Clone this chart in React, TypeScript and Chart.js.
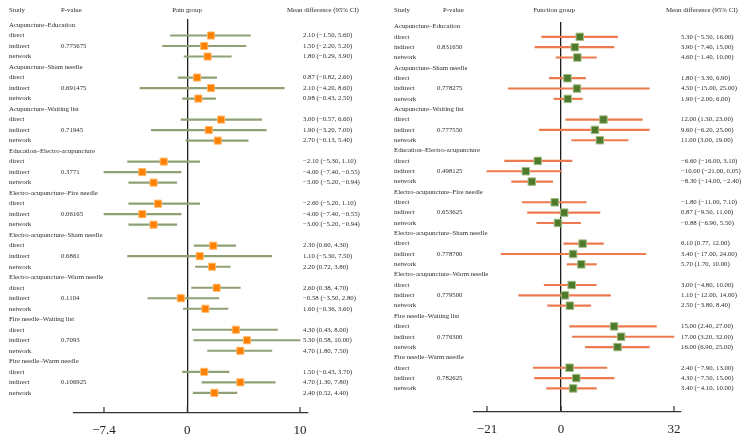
import React, { useEffect, useRef } from 'react';
import { Chart, registerables } from 'chart.js';

Chart.register(...registerables);

// ---------- data ----------
const comparisons = [
  'Acupuncture–Education',
  'Acupuncture–Sham needle',
  'Acupuncture–Waiting list',
  'Education–Electro-acupuncture',
  'Electro-acupuncture–Fire needle',
  'Electro-acupuncture–Sham needle',
  'Electro-acupuncture–Warm needle',
  'Fire needle–Waiting list',
  'Fire needle–Warm needle',
];
const evidenceTypes = ['direct', 'indirect', 'network'];

// [estimate, lower, upper]
const painDirect = [[2.10, -1.50, 5.60], [0.87, -0.82, 2.60], [3.00, -0.57, 6.60], [-2.10, -5.30, 1.10], [-2.60, -5.20, 1.10], [2.30, 0.60, 4.30], [2.60, 0.38, 4.70], [4.30, 0.43, 8.00], [1.50, -0.43, 3.70]];
const painIndirect = [[1.50, -2.20, 5.20], [2.10, -4.20, 8.60], [1.90, -3.20, 7.00], [-4.00, -7.40, -0.55], [-4.00, -7.40, -0.55], [1.10, -5.30, 7.50], [-0.58, -3.50, 2.80], [5.30, 0.58, 10.00], [4.70, 1.30, 7.80]];
const painNetwork = [[1.80, -0.29, 3.90], [0.98, -0.43, 2.50], [2.70, -0.13, 5.40], [-3.00, -5.20, -0.94], [-3.00, -5.20, -0.94], [2.20, 0.72, 3.80], [1.60, -0.36, 3.60], [4.70, 1.80, 7.50], [2.40, 0.52, 4.40]];
const painP = ['0.775675', '0.691475', '0.71945', '0.3771', '0.06165', '0.6861', '0.1104', '0.7093', '0.106925'];
const painTicks = [-7.4, 0, 10];

const funcDirect = [[5.30, -5.50, 16.00], [1.80, -3.30, 6.90], [12.00, 1.30, 23.00], [-6.60, -16.00, 3.10], [-1.80, -11.00, 7.10], [6.10, 0.77, 12.00], [3.00, -4.80, 10.00], [15.00, 2.40, 27.00], [2.40, -7.90, 13.00]];
const funcIndirect = [[3.90, -7.40, 15.00], [4.50, -15.00, 25.00], [9.60, -6.20, 25.00], [-10.00, -21.00, 0.05], [0.87, -9.50, 11.00], [3.40, -17.00, 24.00], [1.10, -12.00, 14.00], [17.00, 3.20, 32.00], [4.30, -7.50, 15.00]];
const funcNetwork = [[4.60, -1.40, 10.00], [1.90, -2.00, 6.00], [11.00, 3.00, 19.00], [-8.30, -14.00, -2.40], [-0.88, -6.90, 5.50], [5.70, 1.70, 10.00], [2.50, -3.80, 8.40], [16.00, 6.90, 25.00], [3.40, -4.10, 10.00]];
const funcP = ['0.831650', '0.778275', '0.777550', '0.498125', '0.653625', '0.778700', '0.779500', '0.776300', '0.782625'];
const funcTicks = [-21, 0, 32];

// ---------- helpers ----------
const SERIF = '"Liberation Serif", "Times New Roman", serif';
const fmt = (v: number) => (v < 0 ? '−' + Math.abs(v).toFixed(2) : v.toFixed(2));
const fmtTick = (v: number) => (v < 0 ? '−' + String(Math.abs(v)) : String(v));

type PanelProps = {
  title: string;
  direct: number[][];
  indirect: number[][];
  network: number[][];
  pvals: string[];
  ticks: number[];
  lineColor: string;
  pointColor: string;
  pointBorder: string;
  pointRadius: number;
  layout: {
    padLeft: number; padRight: number; padTop: number; axisHeight: number;
    yMin: number; yMax: number; xMin: number; xMax: number;
    studyX: number; pX: number; pHeaderX: number; ciX: number; ciHeaderX: number; titleX: number; headerY: number;
  };
};

function Panel(props: PanelProps) {
  const ref = useRef<HTMLCanvasElement | null>(null);
  useEffect(() => {
    const canvas = ref.current;
    if (!canvas) return;
    const L = props.layout;
    const sets = [props.direct, props.indirect, props.network];
    const bars: any[] = [];
    const pts: any[] = [];
    comparisons.forEach((_, g) => {
      sets.forEach((s, t) => {
        const row = g * 4 + 1 + t;
        bars.push({ x: [s[g][1], s[g][2]], y: row });
        pts.push({ x: s[g][0], y: row });
      });
    });

    const textPlugin = {
      id: 'forestText',
      afterDraw(chart: any) {
        const ctx = chart.ctx;
        const ys = chart.scales.y;
        const xs = chart.scales.x;
        ctx.save();
        ctx.fillStyle = '#2b2b2b';
        ctx.textBaseline = 'middle';
        ctx.font = `6.8px ${SERIF}`;
        ctx.textAlign = 'left';
        ctx.fillText('Study', L.studyX, L.headerY);
        ctx.fillText('P-value', L.pHeaderX, L.headerY);
        ctx.fillText('Mean difference (95% CI)', L.ciHeaderX, L.headerY);
        ctx.textAlign = 'center';
        ctx.fillText(props.title, L.titleX, L.headerY);
        ctx.textAlign = 'left';
        comparisons.forEach((name, g) => {
          ctx.fillText(name, L.studyX, ys.getPixelForValue(g * 4));
          sets.forEach((s, t) => {
            const y = ys.getPixelForValue(g * 4 + 1 + t);
            ctx.fillText(evidenceTypes[t], L.studyX, y);
            if (t === 1) ctx.fillText(props.pvals[g], L.pX, y);
            ctx.fillText(`${fmt(s[g][0])} (${fmt(s[g][1])}, ${fmt(s[g][2])})`, L.ciX, y);
          });
        });
        // inward tick marks
        ctx.strokeStyle = '#333';
        ctx.lineWidth = 1.2;
        const bottom = chart.chartArea.bottom;
        xs.ticks.forEach((tk: any) => {
          const px = xs.getPixelForValue(tk.value);
          ctx.beginPath();
          ctx.moveTo(px, bottom);
          ctx.lineTo(px, bottom - 6);
          ctx.stroke();
        });
        ctx.restore();
      },
    };

    const chart = new Chart(canvas, {
      type: 'bar',
      data: {
        datasets: [
          {
            type: 'scatter',
            data: pts,
            pointStyle: 'rect',
            pointRadius: props.pointRadius,
            pointBackgroundColor: props.pointColor,
            pointBorderColor: props.pointBorder,
            pointBorderWidth: 1,
            showLine: false,
            order: 0,
          } as any,
          {
            type: 'bar',
            data: bars,
            backgroundColor: props.lineColor,
            borderWidth: 0,
            barThickness: 1.5,
            order: 1,
          } as any,
        ],
      },
      options: {
        indexAxis: 'y',
        animation: false,
        responsive: false,
        maintainAspectRatio: false,
        events: [],
        layout: { padding: { left: L.padLeft, right: L.padRight, top: L.padTop, bottom: 0 } },
        plugins: { legend: { display: false }, tooltip: { enabled: false } },
        scales: {
          y: {
            type: 'linear',
            display: false,
            reverse: true,
            min: L.yMin,
            max: L.yMax,
            offset: false,
            grid: { offset: false },
          },
          x: {
            type: 'linear',
            position: 'bottom',
            min: L.xMin,
            max: L.xMax,
            offset: false,
            afterBuildTicks: (scale: any) => {
              scale.ticks = props.ticks.map((v) => ({ value: v }));
            },
            afterFit: (scale: any) => {
              scale.height = L.axisHeight;
            },
            grid: {
              offset: false,
              drawTicks: false,
              lineWidth: 1.3,
              color: (c: any) => (c.tick && c.tick.value === 0 ? '#1e1e1e' : 'rgba(0,0,0,0)'),
            },
            border: { display: true, color: '#333', width: 1.2 },
            ticks: {
              padding: 10,
              color: '#222',
              font: { family: SERIF, size: 13 },
              maxRotation: 0,
              autoSkip: false,
              callback: (v: any) => fmtTick(Number(v)),
            },
          },
        },
      } as any,
      plugins: [textPlugin],
    });
    return () => chart.destroy();
  }, []);
  return <canvas ref={ref} width={373} height={443} style={{ width: 373, height: 443, display: 'block' }} />;
}

export default function App() {
  return (
    <div style={{ position: 'absolute', left: 0, top: 0, width: 746, height: 443, display: 'flex', background: '#fff' }}>
      <Panel
        title="Pain group"
        direct={painDirect}
        indirect={painIndirect}
        network={painNetwork}
        pvals={painP}
        ticks={painTicks}
        lineColor="#8fa174"
        pointColor="#ff7f00"
        pointBorder="#ffb869"
        pointRadius={5}
        layout={{
          padLeft: 74, padRight: 65, padTop: 19, axisHeight: 30,
          yMin: -0.571, yMax: 36.92, xMin: -10.06, xMax: 10.71,
          studyX: 9, pX: 61, pHeaderX: 61, ciX: 303, ciHeaderX: 287, titleX: 187, headerY: 10.5,
        }}
      />
      <Panel
        title="Function group"
        direct={funcDirect}
        indirect={funcIndirect}
        network={funcNetwork}
        pvals={funcP}
        ticks={funcTicks}
        lineColor="#ec7a4e"
        pointColor="#4f7a2c"
        pointBorder="#a3bd86"
        pointRadius={5.3}
        layout={{
          padLeft: 101, padRight: 65, padTop: 22, axisHeight: 31,
          yMin: -0.435, yMax: 37.28, xMin: -24.68, xMax: 33.98,
          studyX: 21, pX: 64, pHeaderX: 70, ciX: 308, ciHeaderX: 293, titleX: 181, headerY: 10.5,
        }}
      />
    </div>
  );
}
